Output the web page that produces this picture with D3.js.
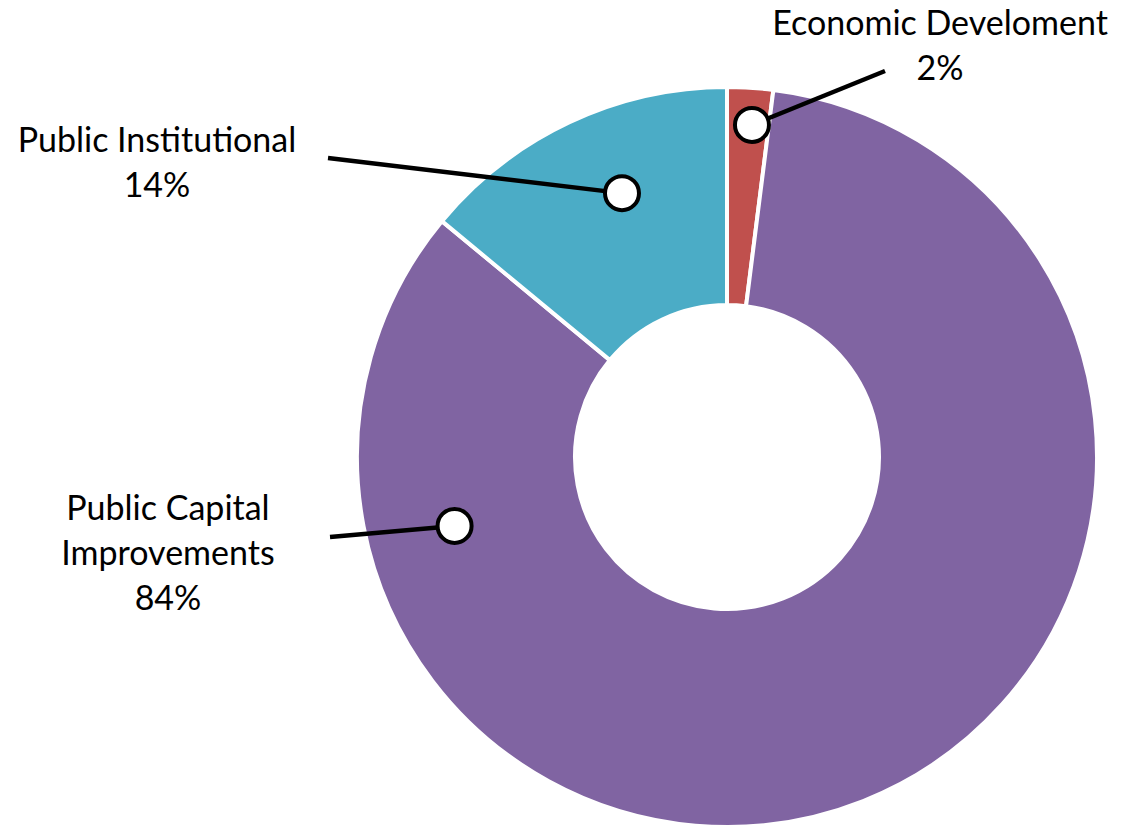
<!DOCTYPE html>
<html>
<head>
<meta charset="utf-8">
<script src="https://cdn.jsdelivr.net/npm/d3@7"></script>
<style>
  html, body { margin: 0; padding: 0; background: #fff; }
  svg { display: block; }
  text { font-family: Lato, "Open Sans", sans-serif; fill: #000; }
</style>
</head>
<body>
<svg id="chart" width="1124" height="826"></svg>
<script>
// data
const categories = ["Economic Develoment", "Public Capital Improvements", "Public Institutional"];
const values = [2, 84, 14];
const colors = ["#C0504D", "#8064A2", "#4BACC6"];

// label text lines per slice
const labelLines = [
  ["Economic Develoment", "2%"],
  ["Public Capital", "Improvements", "84%"],
  ["Public Institutional", "14%"]
];
// callout marker position (degrees clockwise from top, distance from centre)
const markerAngle = [4.3, 255.8, -21.7];
const markerRadius = [333, 281, 284];
// where the leader line ends and where the label block sits
const lineEnd = [[885, 71], [330, 537], [328, 158]];
const labelPos = [[940, 35], [168, 520], [157, 152]];

const width = 1124, height = 826;
const cx = 727, cy = 457;
const outerR = 370, innerR = 152;

const svg = d3.select("#chart");
const g = svg.append("g").attr("transform", `translate(${cx},${cy})`);

const data = categories.map((name, i) => ({ name, value: values[i], i }));

const pie = d3.pie().value(d => d.value).sort(null);
const arc = d3.arc().innerRadius(innerR).outerRadius(outerR);

g.selectAll("path.slice")
  .data(pie(data))
  .enter()
  .append("path")
  .attr("class", "slice")
  .attr("d", arc)
  .attr("fill", d => colors[d.data.i])
  .attr("stroke", "#fff")
  .attr("stroke-width", 4)
  .attr("stroke-linejoin", "miter");

// callouts
data.forEach((d, i) => {
  const [mx, my] = d3.pointRadial(markerAngle[i] * Math.PI / 180, markerRadius[i]);
  const px = cx + mx, py = cy + my;

  svg.append("line")
    .attr("x1", lineEnd[i][0]).attr("y1", lineEnd[i][1])
    .attr("x2", px).attr("y2", py)
    .attr("stroke", "#000")
    .attr("stroke-width", 4.5);

  svg.append("circle")
    .attr("cx", px).attr("cy", py)
    .attr("r", 17)
    .attr("fill", "#fff")
    .attr("stroke", "#000")
    .attr("stroke-width", 4);

  const t = svg.append("text")
    .attr("x", labelPos[i][0])
    .attr("y", labelPos[i][1])
    .attr("text-anchor", "middle")
    .style("font-size", "34px");
  labelLines[i].forEach((line, k) => {
    t.append("tspan")
      .attr("x", labelPos[i][0])
      .attr("dy", k === 0 ? 0 : 45)
      .text(line);
  });
});
</script>
</body>
</html>
